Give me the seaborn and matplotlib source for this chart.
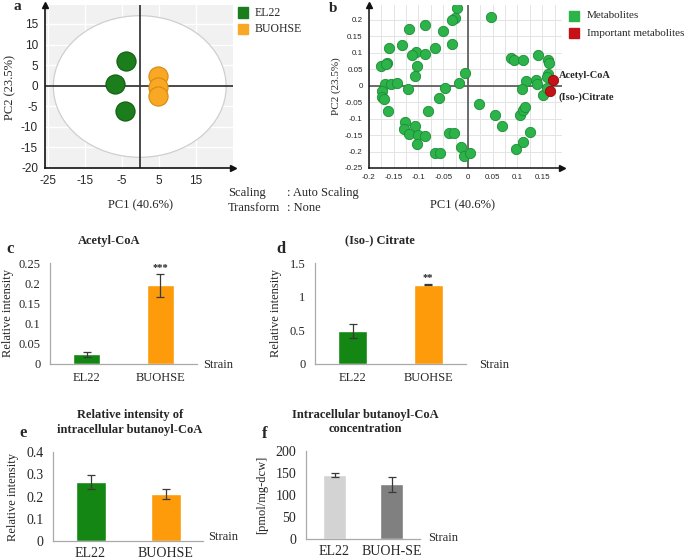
import numpy as np
import pandas as pd
import matplotlib
matplotlib.use("Agg")
import matplotlib.pyplot as plt
from matplotlib.patches import Ellipse, Rectangle
from matplotlib.ticker import FuncFormatter, MultipleLocator
import seaborn as sns

# ---------------- data ----------------
# panel a: PCA score plot
el22_pc1 = [-4.0, -7.0, -4.3]
el22_pc2 = [5.9, 0.4, -6.2]
buohse_pc1 = [4.8, 4.8, 4.8]
buohse_pc2 = [2.4, -0.4, -2.4]

# panel b: loading plot
met_pc1 = [-0.022, 0.047, -0.027, -0.032, -0.086, -0.120, -0.050, -0.133, -0.032, -0.159,
           -0.067, -0.106, -0.113, -0.087, -0.102, -0.176, -0.163, -0.165, -0.107, -0.007,
           -0.019, -0.168, -0.155, -0.144, -0.122, -0.046, -0.173, -0.174, -0.170, -0.059,
           -0.162, -0.081, 0.022, 0.054, 0.068, -0.127, -0.129, -0.107, -0.119, -0.100,
           -0.087, -0.102, -0.039, -0.029, -0.015, -0.009, 0.004, -0.066, -0.056, 0.098,
           0.111, 0.125, 0.106, 0.111, 0.115, 0.087, 0.093, 0.111, 0.141, 0.162,
           0.164, 0.162, 0.160, 0.117, 0.137, 0.140, 0.110, 0.151, 0.160]
met_pc2 = [0.235, 0.210, 0.205, 0.200, 0.185, 0.172, 0.165, 0.124, 0.127, 0.114,
           0.114, 0.101, 0.094, 0.096, 0.061, 0.061, 0.070, 0.065, 0.028, 0.040,
           0.009, 0.005, 0.004, 0.007, -0.011, -0.008, -0.015, -0.033, -0.041, -0.038,
           -0.076, -0.076, -0.055, -0.088, -0.122, -0.111, -0.132, -0.122, -0.147, -0.149,
           -0.154, -0.177, -0.144, -0.144, -0.187, -0.213, -0.204, -0.204, -0.204, -0.191,
           -0.171, -0.141, -0.088, -0.073, -0.065, 0.084, 0.077, 0.079, 0.092, 0.079,
           0.069, 0.036, 0.026, 0.015, 0.016, 0.005, -0.011, -0.028, -0.008]
imp_names = ["Acetyl-CoA", "(Iso-)Citrate"]
imp_pc1 = [0.171, 0.166]
imp_pc2 = [0.017, -0.016]

# bar panels
strains = ["EL22", "BUOHSE"]
acetyl_mean = [0.024, 0.195]
acetyl_err = [0.006, 0.028]
citrate_mean = [0.49, 1.18]
citrate_err = [0.10, 0.012]
butrel_mean = [0.265, 0.212]
butrel_err = [0.030, 0.023]
strains_f = ["EL22", "BUOH-SE"]
butconc_mean = [146, 124]
butconc_err = [4, 18]

# ---------------- style ----------------
sns.set_style("white")
plt.rcParams["font.family"] = ["Liberation Serif", "DejaVu Serif"]
plt.rcParams["axes.unicode_minus"] = False

W, H = 685, 560
fig = plt.figure(figsize=(W / 100, H / 100), dpi=100)


def rect(l, t, r, b):
    return [l / W, 1 - b / H, (r - l) / W, (b - t) / H]


def T(x, y, s, **kw):
    kw.setdefault("ha", "left")
    kw.setdefault("va", "center")
    return fig.text(x / W, 1 - y / H, s, **kw)


def square(x, y, c, size=10):
    fig.add_artist(Rectangle((x / W, 1 - (y + size / 2) / H), size / W, size / H,
                             transform=fig.transFigure, facecolor=c, edgecolor=c))


SANS = ["Liberation Sans", "DejaVu Sans"]
GREEN_A, GREEN_A_E = "#1b7d1b", "#0f5e0f"
ORANGE_A, ORANGE_A_E = "#f8a824", "#d88a0a"

# ---------------- panel a ----------------
axa = fig.add_axes(rect(45, 5, 233, 168))
axa.set_facecolor("#f1f1f1")
axa.set_xlim(-25.8, 25)
axa.set_ylim(-20, 19.6)
axa.set_xticks([-25, -15, -5, 5, 15])
axa.set_yticks(np.arange(-20, 16, 5))
axa.xaxis.set_minor_locator(MultipleLocator(2))
axa.yaxis.set_minor_locator(MultipleLocator(1))
axa.grid(True, which="major", color="white", lw=1.0)
axa.set_axisbelow(True)
axa.add_patch(Ellipse((-0.2, -0.2), 46.7, 34.4, facecolor="white", edgecolor="#cfcfcf",
                      lw=0.9, zorder=1))
axa.axhline(0, color="#3a3a3a", lw=1.3, zorder=2)
axa.axvline(0, color="#3a3a3a", lw=1.3, zorder=2)
dfa1 = pd.DataFrame({"PC1": el22_pc1, "PC2": el22_pc2})
dfa2 = pd.DataFrame({"PC1": buohse_pc1, "PC2": buohse_pc2})
sns.scatterplot(data=dfa1, x="PC1", y="PC2", ax=axa, s=190, color=GREEN_A,
                edgecolor=GREEN_A_E, linewidth=0.8, zorder=3)
sns.scatterplot(data=dfa2, x="PC1", y="PC2", ax=axa, s=190, color=ORANGE_A,
                edgecolor=ORANGE_A_E, linewidth=0.8, zorder=3)
axa.set_xlabel("")
axa.set_ylabel("")
for sp in ["top", "right"]:
    axa.spines[sp].set_visible(False)
for sp in ["left", "bottom"]:
    axa.spines[sp].set_color("#111111")
    axa.spines[sp].set_linewidth(1.2)
axa.tick_params(which="major", direction="out", length=3, width=0.8, color="#333333",
                labelsize=8.5, pad=2)
axa.tick_params(which="minor", direction="out", length=1.5, width=0.6, color="#333333")
for lab in axa.get_xticklabels() + axa.get_yticklabels():
    lab.set_family(SANS)
axa.plot(1, 0, ">", color="#111111", ms=5, transform=axa.transAxes, clip_on=False)
axa.plot(0, 1, "^", color="#111111", ms=5, transform=axa.transAxes, clip_on=False)

T(17, 7, "a", fontsize=11, fontweight="bold", ha="center")
T(10, 88, "PC2 (23.5%)", fontsize=9, rotation=90, ha="center")
T(140, 205, "PC1 (40.6%)", fontsize=9, ha="center")
square(238, 12.5, GREEN_A)
square(238, 29, ORANGE_A)
T(255, 12.5, "EL22", fontsize=8.5)
T(255, 29, "BUOHSE", fontsize=8.5)
T(228, 193, "Scaling", fontsize=9)
T(287, 193, ": Auto Scaling", fontsize=9)
T(228, 208, "Transform", fontsize=9)
T(287, 208, ": None", fontsize=9)

# ---------------- panel b ----------------
GREEN_B, GREEN_B_E = "#2cb34a", "#1d8c36"
RED_B, RED_B_E = "#c41218", "#8f0a0e"
axb = fig.add_axes(rect(369, 5, 562, 168))
axb.set_xlim(-0.2, 0.19)
axb.set_ylim(-0.25, 0.245)
axb.set_xticks(np.arange(-0.2, 0.151, 0.05))
axb.set_yticks(np.arange(-0.25, 0.201, 0.05))
axb.xaxis.set_minor_locator(MultipleLocator(0.025))
axb.yaxis.set_minor_locator(MultipleLocator(0.025))
axb.xaxis.set_major_formatter(FuncFormatter(lambda v, p: f"{v:g}" if abs(v) > 1e-9 else "0"))
axb.yaxis.set_major_formatter(FuncFormatter(lambda v, p: f"{v:g}" if abs(v) > 1e-9 else "0"))
axb.grid(True, axis="x", which="both", color="#e4e4e4", lw=0.7)
axb.grid(True, axis="y", which="major", color="#e4e4e4", lw=0.7)
axb.set_axisbelow(True)
axb.axhline(0, color="#555555", lw=1.2, zorder=1.5)
axb.axvline(0, color="#555555", lw=1.2, zorder=1.5)
dfb = pd.DataFrame({"PC1": met_pc1, "PC2": met_pc2})
dfbi = pd.DataFrame({"PC1": imp_pc1, "PC2": imp_pc2})
sns.scatterplot(data=dfb, x="PC1", y="PC2", ax=axb, s=55, color=GREEN_B,
                edgecolor=GREEN_B_E, linewidth=0.6, zorder=3)
sns.scatterplot(data=dfbi, x="PC1", y="PC2", ax=axb, s=55, color=RED_B,
                edgecolor=RED_B_E, linewidth=0.6, zorder=4)
axb.set_xlabel("")
axb.set_ylabel("")
for sp in ["top", "right"]:
    axb.spines[sp].set_visible(False)
for sp in ["left", "bottom"]:
    axb.spines[sp].set_color("#111111")
    axb.spines[sp].set_linewidth(1.1)
axb.tick_params(which="major", direction="out", length=3, width=0.7, color="#333333",
                labelsize=5.8, pad=1.5)
axb.tick_params(which="minor", direction="out", length=1.5, width=0.6, color="#333333")
for lab in axb.get_xticklabels() + axb.get_yticklabels():
    lab.set_family(SANS)
axb.plot(1, 0, ">", color="#111111", ms=4.5, transform=axb.transAxes, clip_on=False)
axb.plot(0, 1, "^", color="#111111", ms=4.5, transform=axb.transAxes, clip_on=False)
axb.text(0.183, 0.030, imp_names[0], fontsize=7.5, fontweight="bold", va="center",
         ha="left", clip_on=False)
axb.text(0.183, -0.034, imp_names[1], fontsize=7.5, fontweight="bold", va="center",
         ha="left", clip_on=False)

T(333, 9, "b", fontsize=11, fontweight="bold", ha="center")
T(336, 86, "PC2 (23.5%)", fontsize=8, rotation=90, ha="center")
T(463, 205, "PC1 (40.6%)", fontsize=9, ha="center")
square(569, 16, GREEN_B)
square(569, 33, RED_B)
T(587, 16, "Metabolites", fontsize=8)
T(587, 33, "Important metabolites", fontsize=8)

# ---------------- bar panels ----------------
GREEN_BAR = "#138613"
ORANGE_BAR = "#fd9b0b"
SPINE = "#a9a9a9"


def bar_panel(px, cats, vals, errs, colors, ylim, step, fs, width, pad=6):
    ax = fig.add_axes(rect(*px))
    sns.barplot(x=cats, y=vals, hue=cats, palette=colors, width=width, saturation=1,
                errorbar=None, legend=False, ax=ax, zorder=2)
    ax.errorbar(np.arange(len(cats)), vals, yerr=errs, fmt="none", ecolor="#3a3a3a",
                elinewidth=0.9, capsize=2.8, capthick=0.9, zorder=3)
    ax.set_xlim(-0.5, len(cats) - 0.5)
    ax.set_ylim(*ylim)
    ax.set_yticks(np.arange(ylim[0], ylim[1] + step / 2, step))
    ax.yaxis.set_major_formatter(FuncFormatter(lambda v, p: f"{v:g}"))
    ax.set_xticks(range(len(cats)))
    ax.set_xticklabels(cats)
    ax.set_xticks(np.arange(-0.5, len(cats)), minor=True)
    ax.tick_params(axis="x", which="major", length=0, pad=pad, labelsize=fs)
    ax.tick_params(axis="x", which="minor", length=4, color=SPINE, direction="out", width=0.9)
    ax.tick_params(axis="y", length=4, color=SPINE, direction="out", width=0.9,
                   labelsize=fs, pad=3)
    for sp in ["top", "right"]:
        ax.spines[sp].set_visible(False)
    for sp in ["left", "bottom"]:
        ax.spines[sp].set_color(SPINE)
        ax.spines[sp].set_linewidth(0.9)
    ax.set_xlabel("")
    ax.set_ylabel("")
    return ax


axc = bar_panel((50, 263, 197, 364), strains, acetyl_mean, acetyl_err,
                [GREEN_BAR, ORANGE_BAR], (0, 0.25), 0.05, 9, 0.37)
axc.annotate("***", (1, acetyl_mean[1] + acetyl_err[1]), xytext=(0, 1.5),
             textcoords="offset points", ha="center", va="bottom", fontsize=7.5,
             fontweight="bold")
T(10, 249, "c", fontsize=12, fontweight="bold", ha="center")
T(109, 241, "Acetyl-CoA", fontsize=9, fontweight="bold", ha="center")
T(8, 313, "Relative intensity", fontsize=9, rotation=90, ha="center")
T(203, 365, "Strain", fontsize=9)

axd = bar_panel((315, 263, 466, 364), strains, citrate_mean, citrate_err,
                [GREEN_BAR, ORANGE_BAR], (0, 1.5), 0.5, 9, 0.38)
axd.annotate("**", (1, citrate_mean[1] + citrate_err[1]), xytext=(0, 1.5),
             textcoords="offset points", ha="center", va="bottom", fontsize=7.5,
             fontweight="bold")
T(281, 249, "d", fontsize=12, fontweight="bold", ha="center")
T(380, 240, "(Iso-) Citrate", fontsize=9, fontweight="bold", ha="center")
T(276, 313, "Relative intensity", fontsize=9, rotation=90, ha="center")
T(479, 365, "Strain", fontsize=9)

axe = bar_panel((53, 452, 203, 541), strains, butrel_mean, butrel_err,
                [GREEN_BAR, ORANGE_BAR], (0, 0.4), 0.1, 10, 0.40, pad=4)
T(23, 433, "e", fontsize=12, fontweight="bold", ha="center")
T(130, 415, "Relative intensity of", fontsize=9, fontweight="bold", ha="center")
T(130, 430, "intracellular butanoyl-CoA", fontsize=9, fontweight="bold", ha="center")
T(13, 497, "Relative intensity", fontsize=9, rotation=90, ha="center")
T(208, 537, "Strain", fontsize=9)

axf = bar_panel((306, 451, 420, 539), strains_f, butconc_mean, butconc_err,
                ["#d3d3d3", "#808080"], (0, 200), 50, 10, 0.40, pad=4)
T(265, 434, "f", fontsize=12, fontweight="bold", ha="center")
T(365, 415, "Intracellular butanoyl-CoA", fontsize=9, fontweight="bold", ha="center")
T(365, 429, "concentration", fontsize=9, fontweight="bold", ha="center")
T(262, 495, "[pmol/mg-dcw]", fontsize=9, rotation=90, ha="center")
T(428, 538, "Strain", fontsize=9)

fig.savefig("out.png", dpi=100)
